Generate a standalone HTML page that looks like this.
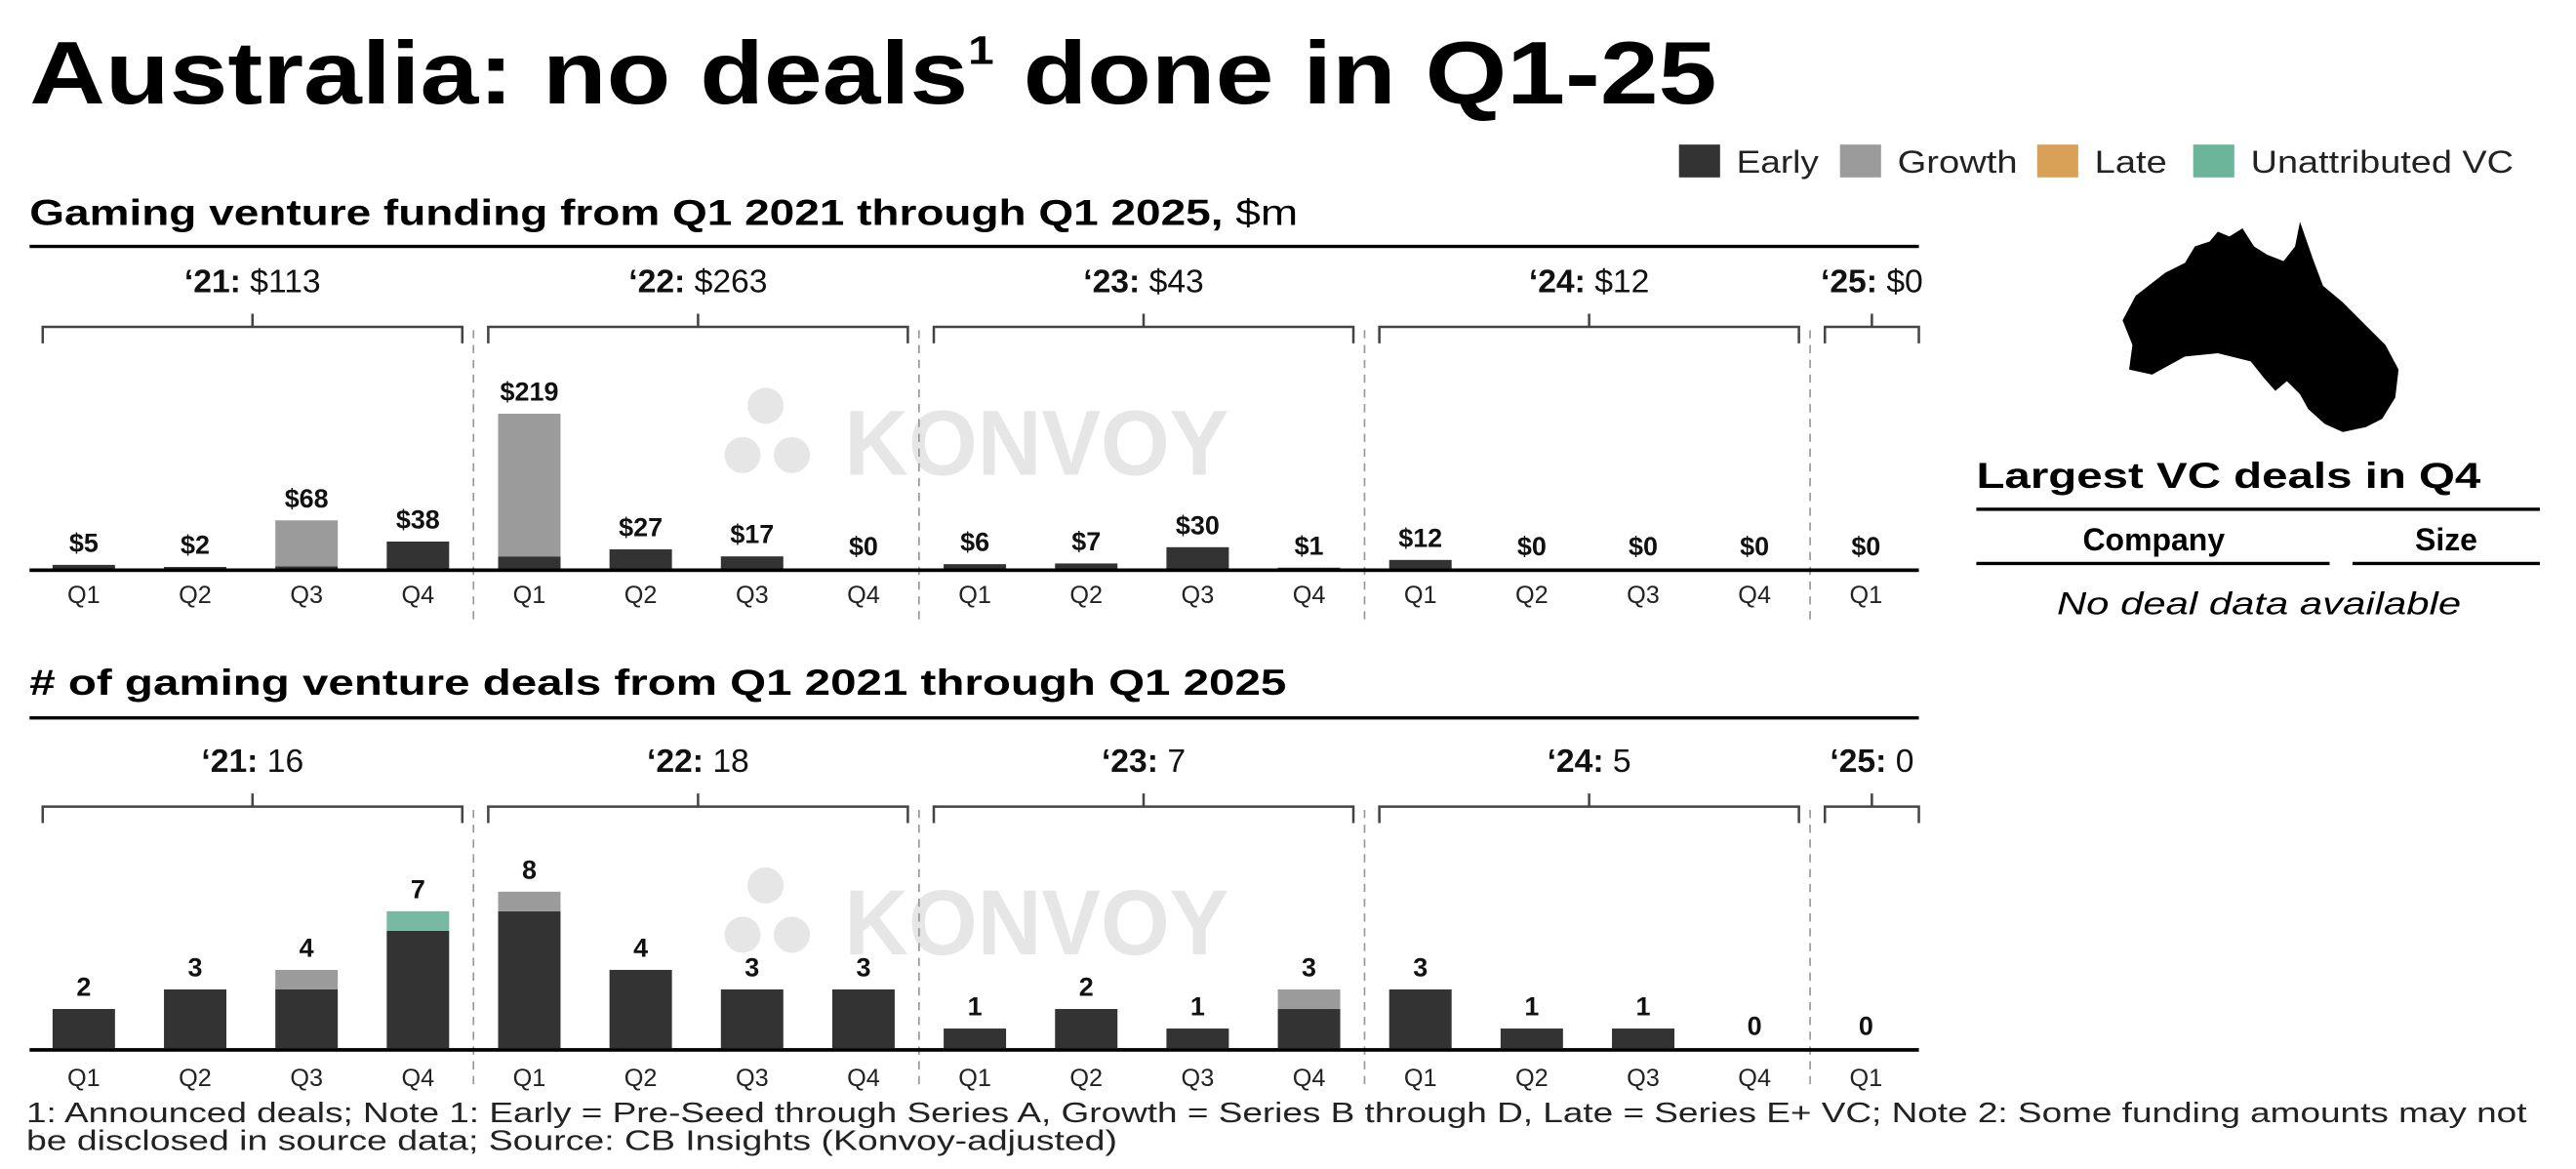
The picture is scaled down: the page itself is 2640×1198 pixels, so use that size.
<!DOCTYPE html>
<html><head><meta charset="utf-8">
<style>
html,body{margin:0;padding:0;background:#fff;}
svg{display:block;font-family:"Liberation Sans",sans-serif;}
</style></head>
<body>
<svg id="chart" width="2640" height="1198" viewBox="0 0 1568 711.6" preserveAspectRatio="none" xmlns="http://www.w3.org/2000/svg">
  <text x="18" y="63" font-size="54" font-weight="bold" fill="#000" textLength="1027" lengthAdjust="spacingAndGlyphs">Australia: no deals<tspan font-size="24" dy="-24">1</tspan><tspan dy="24"> done in Q1-25</tspan></text>

  <g font-size="19" fill="#222">
    <rect x="1022" y="88" width="25" height="20" fill="#333"/>
    <text x="1057" y="105" textLength="50" lengthAdjust="spacingAndGlyphs">Early</text>
    <rect x="1120" y="88" width="25" height="20" fill="#9b9b9b"/>
    <text x="1155" y="105" textLength="73" lengthAdjust="spacingAndGlyphs">Growth</text>
    <rect x="1240" y="88" width="25" height="20" fill="#d8a157"/>
    <text x="1275" y="105" textLength="44" lengthAdjust="spacingAndGlyphs">Late</text>
    <rect x="1335" y="88" width="25" height="20" fill="#6cb59a"/>
    <text x="1370" y="105" textLength="160" lengthAdjust="spacingAndGlyphs">Unattributed VC</text>
  </g>

  <text x="18" y="137" font-size="22" font-weight="bold" fill="#000" textLength="772" lengthAdjust="spacingAndGlyphs">Gaming venture funding from Q1 2021 through Q1 2025, <tspan font-weight="normal">$m</tspan></text>
  <text x="18" y="423" font-size="22" font-weight="bold" fill="#000" textLength="765" lengthAdjust="spacingAndGlyphs"># of gaming venture deals from Q1 2021 through Q1 2025</text>

  <g id="wm"></g>
  <g id="top"></g>
  <g id="bot"></g>

  <path fill="#000" d="M1292,195 L1300,180 L1318,166 L1330,160 L1336,150 L1345,147 L1350,141 L1357,144 L1365,139 L1372,150 L1380,155 L1390,159 L1397,150 L1400,135 L1408,158 L1414,174 L1426,184 L1440,198 L1452,210 L1460,225 L1458,242 L1450,255 L1440,260 L1426,263 L1415,258 L1405,249 L1400,240 L1392,232 L1385,238 L1378,230 L1370,220 L1350,215 L1330,217 L1310,228 L1296,225 L1298,210 Z"/>

  <g>
    <text x="1203" y="297" font-size="22" font-weight="bold" textLength="307" lengthAdjust="spacingAndGlyphs">Largest VC deals in Q4</text>
    <rect x="1203" y="309" width="343" height="2" fill="#000"/>
    <text x="1311" y="335" font-size="19" font-weight="bold" text-anchor="middle">Company</text>
    <text x="1489" y="335" font-size="19" font-weight="bold" text-anchor="middle">Size</text>
    <rect x="1203" y="342" width="215" height="2" fill="#000"/>
    <rect x="1432" y="342" width="114" height="2" fill="#000"/>
    <text x="1375" y="374" font-size="19" font-style="italic" text-anchor="middle" textLength="246" lengthAdjust="spacingAndGlyphs">No deal data available</text>
  </g>

  <text x="16" y="683" font-size="17" fill="#222" textLength="1522" lengthAdjust="spacingAndGlyphs">1: Announced deals; Note 1: Early = Pre-Seed through Series A, Growth = Series B through D, Late = Series E+ VC; Note 2: Some funding amounts may not</text>
  <text x="16" y="700" font-size="17" fill="#222" textLength="664" lengthAdjust="spacingAndGlyphs">be disclosed in source data; Source: CB Insights (Konvoy-adjusted)</text>
</svg>
<script>
const quarters = ["Q1","Q2","Q3","Q4","Q1","Q2","Q3","Q4","Q1","Q2","Q3","Q4","Q1","Q2","Q3","Q4","Q1"];
const years = ["'21","'22","'23","'24","'25"];
const fundingEarly  = [5,2,3,38,17,27,17,0,6,7,30,1,12,0,0,0,0];
const fundingGrowth = [0,0,65,0,202,0,0,0,0,0,0,0,0,0,0,0,0];
const fundingUnattr = [0,0,0,0,0,0,0,0,0,0,0,0,0,0,0,0,0];
const fundingLabels = ["$5","$2","$68","$38","$219","$27","$17","$0","$6","$7","$30","$1","$12","$0","$0","$0","$0"];
const fundingYearTotals = ["$113","$263","$43","$12","$0"];
const dealsEarly  = [2,3,3,6,7,4,3,3,1,2,1,2,3,1,1,0,0];
const dealsGrowth = [0,0,1,0,1,0,0,0,0,0,0,1,0,0,0,0,0];
const dealsUnattr = [0,0,0,1,0,0,0,0,0,0,0,0,0,0,0,0,0];
const dealsLabels = ["2","3","4","7","8","4","3","3","1","2","1","3","3","1","1","0","0"];
const dealsYearTotals = ["16","18","7","5","0"];

const NS = "http://www.w3.org/2000/svg";
function mk(tag, attrs, parent){const e=document.createElementNS(NS,tag);for(const k in attrs)e.setAttribute(k,attrs[k]);parent.appendChild(e);return e;}
const x0 = 51, step = 67.8, barW = 38;
function xScale(i){return x0 + i*step;}

function watermark(cy){
  const g=document.getElementById('wm');
  const t=mk('text',{x:514,y:cy+24,'font-size':56,'font-weight':'bold',fill:'#e6e6e6',textLength:234,lengthAdjust:'spacingAndGlyphs'},g);
  
  
  t.textContent='KONVOY';
  [[466,cy-18],[452,cy+12],[482,cy+12]].forEach(p=>{
    const c=mk('circle',{cx:p[0],cy:p[1],r:11,fill:'#e6e6e6'},g);
    
    
  });
}
watermark(265);
watermark(557);

function drawChart(gid, topLine, yearY, braceY, baseY, pxPer, early, growth, unattr, labels, totals, qY, dashEnd){
  const g=document.getElementById(gid);
  const y = v => baseY - v*pxPer;
  const rl=mk('rect',{x:18,y:topLine-1,width:1150,height:2,fill:'#000'},g);
  
  
  for(let k=0;k<years.length;k++){
    const i0=k*4, i1=Math.min(k*4+3, quarters.length-1);
    const left = xScale(i0)-25, right = (k===4)?1168:xScale(i1)+27;
    const cx=(left+right)/2;
    const t=mk('text',{x:cx,y:yearY,'font-size':20,'text-anchor':'middle',fill:'#111'},g);
    
    
    const b=mk('tspan',{'font-weight':'bold'},t); b.textContent='\u2018'+years[k].slice(1)+': ';
    const v=mk('tspan',{},t); v.textContent=totals[k];
    const br=mk('path',{d:`M${left},${braceY+10} L${left},${braceY} L${right},${braceY} L${right},${braceY+10} M${cx},${braceY} L${cx},${braceY-8}`,fill:'none',stroke:'#444','stroke-width':1.5},g);
    
    
    if(k>0){
      const dx = xScale(i0)-34;
      const d=mk('line',{x1:dx,y1:braceY+2,x2:dx,y2:dashEnd,stroke:'#999','stroke-width':1,'stroke-dasharray':'5,4'},g);
      
      
    }
  }
  for(let i=0;i<quarters.length;i++){
    const cx=xScale(i);
    let acc=0;
    [[early,'#333','early'],[growth,'#9b9b9b','growth'],[unattr,'#78b9a3','unattributed']].forEach(s=>{
      const v=s[0][i]; if(v<=0) return;
      const r=mk('rect',{x:cx-barW/2,y:y(acc+v),width:barW,height:v*pxPer,fill:s[1]},g);
      
      
      acc+=v;
    });
    const lt=mk('text',{x:cx,y:y(acc)-8,'font-size':16,'font-weight':'bold','text-anchor':'middle',fill:'#111'},g);
    
    
    lt.textContent=labels[i];
    const q=mk('text',{x:cx,y:qY,'font-size':15,'text-anchor':'middle',fill:'#222'},g);
    
    
    q.textContent=quarters[i];
  }
  const bl=mk('rect',{x:18,y:baseY,width:1150,height:2.2,fill:'#000'},g);
  
  
}
drawChart('top',150,178,199,346,0.43,fundingEarly,fundingGrowth,fundingUnattr,fundingLabels,fundingYearTotals,367,378);
drawChart('bot',437,470,491,638,11.9,dealsEarly,dealsGrowth,dealsUnattr,dealsLabels,dealsYearTotals,661,662);
</script>
</body></html>
